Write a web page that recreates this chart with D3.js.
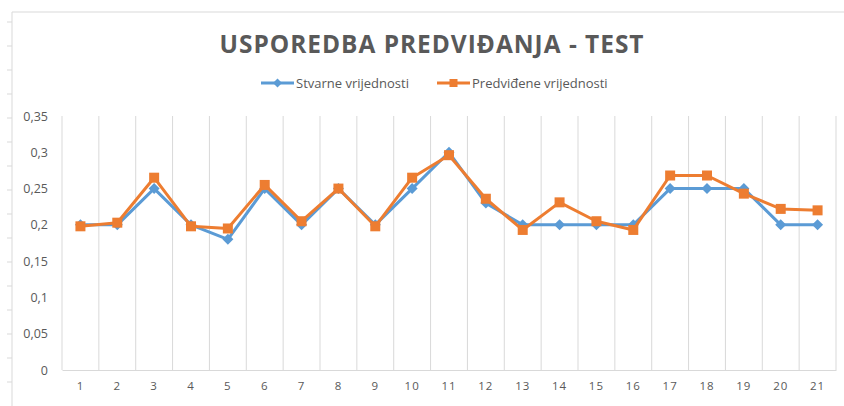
<!DOCTYPE html>
<html>
<head>
<meta charset="utf-8">
<script src="https://cdn.jsdelivr.net/npm/d3@7"></script>
<style>
  body { margin: 0; background: #fff; }
  svg { display: block; font-family: "Open Sans", sans-serif; }
</style>
</head>
<body>
<div id="chart"></div>
<script>
// chart data
const categories = d3.range(1, 22).map(String);
const stvarne = [0.2, 0.2, 0.25, 0.2, 0.18, 0.25, 0.2, 0.25, 0.2, 0.25, 0.3,
                 0.23, 0.2, 0.2, 0.2, 0.2, 0.25, 0.25, 0.25, 0.2, 0.2];
const predvidjene = [0.198, 0.203, 0.265, 0.198, 0.195, 0.255, 0.205, 0.25, 0.198, 0.265, 0.296,
                     0.236, 0.193, 0.231, 0.205, 0.193, 0.268, 0.268, 0.243, 0.222, 0.22];
const yTicks = [0, 0.05, 0.1, 0.15, 0.2, 0.25, 0.3, 0.35];
const seriesNames = ["Stvarne vrijednosti", "Predviđene vrijednosti"];

const W = 844, H = 406;
const margin = { top: 116, right: 8, bottom: 36, left: 62 };
const width = W - margin.left - margin.right,
      height = H - margin.top - margin.bottom;
const textColor = "#595959", gridColor = "#d9d9d9";
const blue = "#5b9bd5", orange = "#ed7d31";

const svg = d3.select("#chart").append("svg")
    .attr("width", W)
    .attr("height", H);

// frame remnants (left and top border)
svg.append("line")
   .attr("x1", 12).attr("x2", W).attr("y1", 12).attr("y2", 12)
   .attr("stroke", gridColor);
svg.append("line")
   .attr("x1", 12).attr("x2", 12).attr("y1", 12).attr("y2", H)
   .attr("stroke", gridColor);
svg.selectAll("line.frametick")
   .data(d3.range(22, H, 24))
   .enter().append("line")
   .attr("class", "frametick")
   .attr("x1", 7).attr("x2", 12)
   .attr("y1", d => d).attr("y2", d => d)
   .attr("stroke", gridColor);

// title
svg.append("text")
   .attr("x", 432).attr("y", 53)
   .attr("text-anchor", "middle")
   .attr("font-size", "24.5px")
   .attr("font-weight", "bold")
   .attr("letter-spacing", "1px")
   .attr("fill", textColor)
   .attr("textLength", 425)
   .attr("lengthAdjust", "spacingAndGlyphs")
   .text("USPOREDBA PREDVIĐANJA - TEST");

const g = svg.append("g")
    .attr("transform", `translate(${margin.left},${margin.top})`);

const x = d3.scaleBand().domain(categories).range([0, width]);
const y = d3.scaleLinear().domain([0, 0.35]).range([height, 0]);

// vertical gridlines at category boundaries
const bounds = categories.map(c => x(c)).concat([width]);
g.selectAll("line.vgrid")
 .data(bounds)
 .enter().append("line")
 .attr("class", "vgrid")
 .attr("x1", d => d).attr("x2", d => d)
 .attr("y1", 0).attr("y2", height)
 .attr("stroke", gridColor);

// x axis
const xAxis = g.append("g")
   .attr("transform", `translate(0,${height})`)
   .call(d3.axisBottom(x).tickSize(0).tickPadding(12));
xAxis.select(".domain").attr("stroke", gridColor);
xAxis.selectAll("text")
     .attr("font-size", "11.5px")
     .attr("letter-spacing", "1px")
     .attr("fill", textColor)
     .attr("font-family", "Open Sans, sans-serif");

// y axis
const yAxis = g.append("g")
   .call(d3.axisLeft(y).tickValues(yTicks).tickSize(0).tickPadding(14)
           .tickFormat(d => String(d).replace(".", ",")));
yAxis.select(".domain").remove();
yAxis.selectAll("text")
     .attr("font-size", "12.5px")
     .attr("fill", textColor)
     .attr("font-family", "Open Sans, sans-serif");

const cx = i => x(categories[i]) + x.bandwidth() / 2;
const line = d3.line().x((d, i) => cx(i)).y(d => y(d));

// blue series
g.append("path")
 .datum(stvarne)
 .attr("fill", "none")
 .attr("stroke", blue)
 .attr("stroke-width", 3)
 .attr("stroke-linejoin", "round")
 .attr("d", line);
g.selectAll("path.diamond")
 .data(stvarne)
 .enter().append("path")
 .attr("class", "diamond")
 .attr("transform", (d, i) => `translate(${cx(i)},${y(d)})`)
 .attr("d", "M0,-5.5L5.5,0L0,5.5L-5.5,0Z")
 .attr("fill", blue);

// orange series
g.append("path")
 .datum(predvidjene)
 .attr("fill", "none")
 .attr("stroke", orange)
 .attr("stroke-width", 3)
 .attr("stroke-linejoin", "round")
 .attr("d", line);
g.selectAll("rect.square")
 .data(predvidjene)
 .enter().append("rect")
 .attr("class", "square")
 .attr("x", (d, i) => cx(i) - 5)
 .attr("y", d => y(d) - 5)
 .attr("width", 10).attr("height", 10)
 .attr("fill", orange);

// legend
const legendItems = [
  { name: seriesNames[0], color: blue, shape: "diamond", x: 261 },
  { name: seriesNames[1], color: orange, shape: "square", x: 437 }
];
const lg = svg.selectAll("g.legend")
  .data(legendItems)
  .enter().append("g")
  .attr("class", "legend")
  .attr("transform", d => `translate(${d.x},83)`);
lg.append("line")
  .attr("x1", 0).attr("x2", 33).attr("y1", 0).attr("y2", 0)
  .attr("stroke", d => d.color).attr("stroke-width", 3);
lg.filter(d => d.shape === "diamond").append("path")
  .attr("d", "M16.5,-4.5L21,0L16.5,4.5L12,0Z")
  .attr("fill", d => d.color);
lg.filter(d => d.shape === "square").append("rect")
  .attr("x", 12.5).attr("y", -4).attr("width", 8).attr("height", 8)
  .attr("fill", d => d.color);
lg.append("text")
  .attr("x", 35).attr("y", 0).attr("dy", "0.35em")
  .attr("font-size", "13px")
  .attr("fill", textColor)
  .text(d => d.name);
</script>
</body>
</html>
